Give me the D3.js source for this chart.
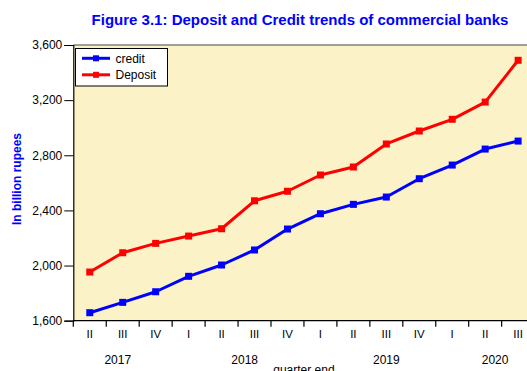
<!DOCTYPE html>
<html>
<head>
<meta charset="utf-8">
<script src="https://cdn.jsdelivr.net/npm/d3@7"></script>
<style>
  html, body { margin: 0; padding: 0; background: #fff; }
  svg { display: block; font-family: "Liberation Sans", Arial, sans-serif; }
</style>
</head>
<body>
<svg id="chart" width="527" height="371"></svg>
<script>
// Quarter-end categories (2017 Q2 – 2020 Q3)
const quarters = ["II", "III", "IV", "I", "II", "III", "IV", "I", "II", "III", "IV", "I", "II", "III"];
// Year labels with the category index they sit under
const years = ["2017", "2018", "2019", "2020"];
const yearAnchors = [0.85, 4.7, 9.0, 12.3];
// Values in billion rupees
const credit = [1658, 1733, 1810, 1922, 2004, 2113, 2265, 2376, 2444, 2497, 2630, 2729, 2845, 2903];
const deposit = [1953, 2093, 2161, 2214, 2267, 2470, 2539, 2657, 2715, 2882, 2976, 3061, 3186, 3489];
const yTicks = [1600, 2000, 2400, 2800, 3200, 3600];

const svg = d3.select("#chart");
const plotL = 73.3, plotR = 534.6, plotT = 45, plotB = 320.7;

const x = d3.scaleBand().domain(d3.range(quarters.length)).range([plotL, plotR]).padding(0);
// continuous index -> pixel, so fractional positions also work
const xi = d3.scaleLinear().domain([-0.5, quarters.length - 0.5]).range([plotL, plotR]);
const cx = i => xi(i);
const y = d3.scaleLinear().domain([1600, 3600]).range([plotB, plotT]);

// plot background
svg.append("rect")
  .attr("x", plotL).attr("y", plotT)
  .attr("width", plotR - plotL).attr("height", plotB - plotT)
  .attr("fill", "#fcf2c7");

// frame top
svg.append("line").attr("x1", plotL).attr("x2", plotR).attr("y1", plotT).attr("y2", plotT)
  .attr("stroke", "#444").attr("stroke-width", 1.2);

// y axis
const yAxis = svg.append("g").attr("transform", `translate(${plotL},0)`)
  .call(d3.axisLeft(y).tickValues(yTicks).tickSize(9).tickPadding(2).tickFormat(d3.format(",")));
yAxis.select(".domain").attr("stroke", "#000").attr("stroke-width", 1.2);
yAxis.selectAll(".tick line").attr("stroke", "#000");
yAxis.selectAll("text").attr("font-size", 12).attr("fill", "#000")
  .attr("font-family", "Liberation Sans, Arial, sans-serif");

// x axis: ticks on category boundaries
const xg = svg.append("g");
xg.append("line").attr("x1", plotL).attr("x2", plotR).attr("y1", plotB).attr("y2", plotB)
  .attr("stroke", "#000").attr("stroke-width", 1.2);
xg.selectAll(".xt").data(d3.range(quarters.length + 1)).join("line")
  .attr("x1", i => plotL + i * x.bandwidth()).attr("x2", i => plotL + i * x.bandwidth())
  .attr("y1", plotB).attr("y2", plotB + 6)
  .attr("stroke", "#000").attr("stroke-width", 1.2);
xg.selectAll(".ql").data(quarters).join("text")
  .attr("x", (d, i) => cx(i)).attr("y", 338)
  .attr("text-anchor", "middle").attr("font-size", 11.5).attr("fill", "#000")
  .text(d => d);
xg.selectAll(".yl").data(years).join("text")
  .attr("x", (d, i) => cx(yearAnchors[i])).attr("y", 364)
  .attr("text-anchor", "middle").attr("font-size", 12).attr("fill", "#000")
  .text(d => d);
svg.append("text").attr("x", (plotL + plotR) / 2).attr("y", 374)
  .attr("text-anchor", "middle").attr("font-size", 12).attr("fill", "#000")
  .text("quarter end");

// series
const series = [
  { name: "credit", values: credit, color: "#0000ff" },
  { name: "Deposit", values: deposit, color: "#ff0000" }
];
const line = d3.line().x((d, i) => cx(i)).y(d => y(d));
series.forEach(s => {
  svg.append("path").datum(s.values)
    .attr("d", line).attr("fill", "none")
    .attr("stroke", s.color).attr("stroke-width", 3).attr("stroke-linejoin", "round");
  svg.selectAll(null).data(s.values).join("rect")
    .attr("x", (d, i) => cx(i) - 3.5).attr("y", d => y(d) - 3.5)
    .attr("width", 7).attr("height", 7).attr("fill", s.color);
});

// legend
const lg = svg.append("g");
lg.append("rect").attr("x", 75.5).attr("y", 48.5).attr("width", 92).attr("height", 37.5)
  .attr("fill", "#fff").attr("stroke", "#000").attr("stroke-width", 1);
series.forEach((s, i) => {
  const ly = 58.3 + i * 16.5;
  lg.append("line").attr("x1", 82).attr("x2", 110).attr("y1", ly).attr("y2", ly)
    .attr("stroke", s.color).attr("stroke-width", 3);
  lg.append("rect").attr("x", 96 - 3).attr("y", ly - 3).attr("width", 6).attr("height", 6)
    .attr("fill", s.color);
  lg.append("text").attr("x", 115.5).attr("y", ly + 4.3)
    .attr("font-size", 12).attr("fill", "#000").text(s.name);
});

// title and y label
svg.append("text").attr("x", 300).attr("y", 25)
  .attr("text-anchor", "middle").attr("font-size", 15).attr("font-weight", "bold")
  .attr("fill", "#0000ff").text("Figure 3.1: Deposit and Credit trends of commercial banks");
svg.append("text").attr("transform", "translate(21,179) rotate(-90)")
  .attr("text-anchor", "middle").attr("font-size", 12).attr("font-weight", "bold")
  .attr("fill", "#0000ff").text("In billion rupees");
</script>
</body>
</html>
